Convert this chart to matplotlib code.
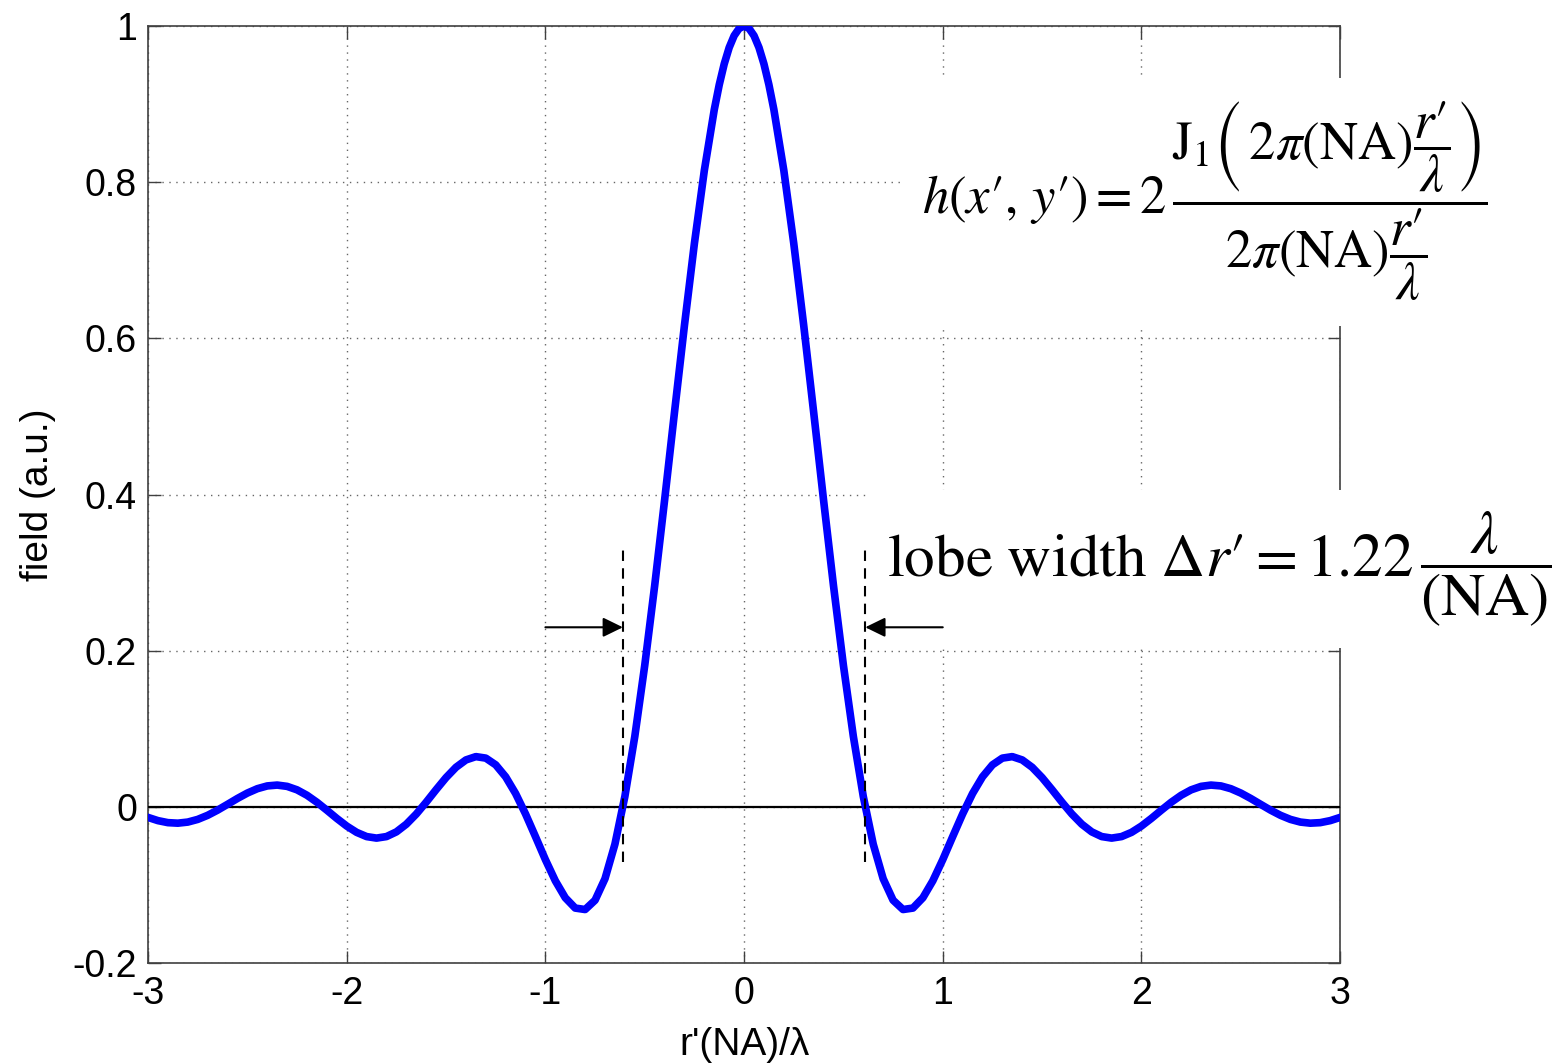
"""
Airy field profile h(r') with the lobe width marked, MATLAB-style axes.
"""

import numpy as np
import matplotlib
matplotlib.use("Agg")
import matplotlib.pyplot as plt

plt.rcParams["font.family"] = ["Liberation Sans", "DejaVu Sans"]
plt.rcParams["mathtext.fontset"] = "stix"

# normalised radius r'(NA)/lambda, sampled every 0.05
r_norm = np.linspace(-3, 3, 121)

# field values
field = [
    -0.01352, -0.01764, -0.02021, -0.02088, -0.01948, -0.01606, -0.01082, -0.00420, 0.00324, 0.01078,
    0.01770, 0.02326, 0.02682, 0.02791, 0.02624, 0.02180, 0.01485, 0.00591, -0.00428, -0.01479,
    -0.02459, -0.03266, -0.03805, -0.04001, -0.03805, -0.03203, -0.02220, -0.00919, 0.00600, 0.02207,
    0.03750, 0.05070, 0.06010, 0.06435, 0.06243, 0.05380, 0.03846, 0.01707, -0.00909, -0.03812,
    -0.06760, -0.09471, -0.11640, -0.12961, -0.13148, -0.11955, -0.09197, -0.04773, 0.01330, 0.09024,
    0.18119, 0.28332, 0.39294, 0.50590, 0.61696, 0.72170, 0.81518, 0.89300, 0.95146, 0.98771,
    1.0,
    0.98771, 0.95146, 0.89300, 0.81518, 0.72170, 0.61696, 0.50590, 0.39294, 0.28332, 0.18119,
    0.09024, 0.01330, -0.04773, -0.09197, -0.11955, -0.13148, -0.12961, -0.11640, -0.09471, -0.06760,
    -0.03812, -0.00909, 0.01707, 0.03846, 0.05380, 0.06243, 0.06435, 0.06010, 0.05070, 0.03750,
    0.02207, 0.00600, -0.00919, -0.02220, -0.03203, -0.03805, -0.04001, -0.03805, -0.03266, -0.02459,
    -0.01479, -0.00428, 0.00591, 0.01485, 0.02180, 0.02624, 0.02791, 0.02682, 0.02326, 0.01770,
    0.01078, 0.00324, -0.00420, -0.01082, -0.01606, -0.01948, -0.02088, -0.02021, -0.01764, -0.01352,
]

# a few extra readings around the peak, where the curve bends most
r_peak = [-0.125, -0.075, -0.025, 0.025, 0.075, 0.125]
field_peak = [0.92485, 0.97250, 0.99692, 0.99692, 0.97250, 0.92485]

# first zero of the main lobe, dashed markers and arrows
lobe_edges = [-0.61, 0.61]
marker_span = (-0.07, 0.335)
arrow_y = 0.23
arrow_starts = [-1.0, 1.0]

x_ticks = [-3, -2, -1, 0, 1, 2, 3]
y_ticks = [-0.2, 0, 0.2, 0.4, 0.6, 0.8, 1]
x_ticklabels = ["-3", "-2", "-1", "0", "1", "2", "3"]
y_ticklabels = ["-0.2", "0", "0.2", "0.4", "0.6", "0.8", "1"]

r_all = np.concatenate([r_norm, r_peak])
f_all = np.concatenate([field, field_peak])
order = np.argsort(r_all)

fig = plt.figure(figsize=(15.65, 10.64), dpi=100)
ax = fig.add_axes([0.0946, 0.0949, 0.7617, 0.8806])

ax.plot(r_all[order], f_all[order], color=(0, 0, 1), lw=5.5,
        solid_joinstyle="round", zorder=4)
ax.axhline(0, color="k", lw=1.6, zorder=3)

ax.vlines(lobe_edges, marker_span[0], marker_span[1], colors="k",
          linestyles=(0, (5, 3.5)), lw=1.5, zorder=7)
for x0, x1 in zip(arrow_starts, lobe_edges):
    ax.annotate("", xy=(x1, arrow_y), xytext=(x0, arrow_y),
                arrowprops=dict(arrowstyle="-|>,head_length=0.45,head_width=0.22",
                                color="k", lw=1.5, mutation_scale=27,
                                shrinkA=0, shrinkB=0), zorder=7)

ax.set_xlim(-3, 3)
ax.set_ylim(-0.2, 1)
ax.set_xticks(x_ticks)
ax.set_xticklabels(x_ticklabels)
ax.set_yticks(y_ticks)
ax.set_yticklabels(y_ticklabels)
ax.tick_params(direction="in", length=9, width=1, labelsize=27,
               top=True, right=True, color="0.25")
ax.tick_params(axis="x", pad=9)
ax.tick_params(axis="y", pad=8)
ax.grid(True, linestyle=(0, (1, 4)), color="0.4", lw=1)
for sp in ax.spines.values():
    sp.set_color("0.25")
    sp.set_linewidth(1.2)

ax.set_xlabel(r"r'(NA)/λ", fontsize=28, labelpad=11)
ax.set_ylabel("field (a.u.)", fontsize=28, labelpad=12)

eq = (r"$h\left(x′,\,y′\right)=2\,"
      r"\dfrac{\mathrm{J}_1\left(\,2\pi\left(\mathrm{NA}\right)\dfrac{r′}{\lambda}\right)}"
      r"{2\pi\left(\mathrm{NA}\right)\dfrac{r′}{\lambda}}$")
ax.text(2.32, 0.775, eq, fontsize=38, ha="center", va="center", zorder=6,
        clip_on=False, bbox=dict(facecolor="white", edgecolor="none", pad=16))

lobe = (r"$\mathrm{lobe\ width}\ \Delta r′=1.22\,"
        r"\dfrac{\lambda}{\left(\mathrm{NA}\right)}$")
ax.text(0.72, 0.305, lobe, fontsize=44, ha="left", va="center", zorder=6,
        clip_on=False, bbox=dict(facecolor="white", edgecolor="none", pad=14))

fig.savefig("out.png", dpi=100, facecolor="white")
